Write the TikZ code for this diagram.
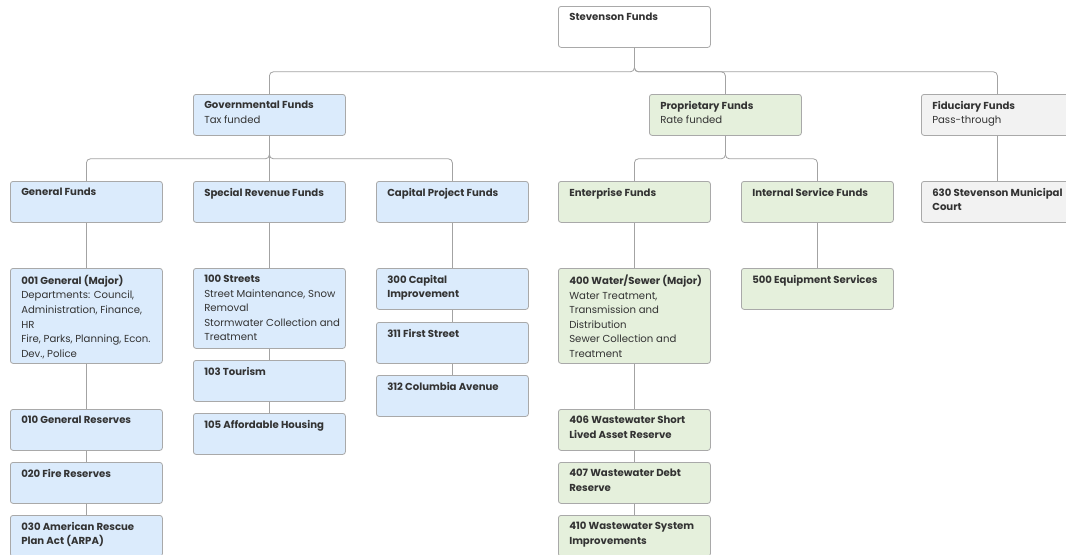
\documentclass[tikz,border=0pt]{standalone}
\usepackage{fontspec}
\setmainfont{Poppins}
\definecolor{govfill}{HTML}{DBEBFC}
\definecolor{propfill}{HTML}{E5F0DC}
\definecolor{fidfill}{HTML}{F2F2F2}
\definecolor{boxline}{HTML}{A9A9A9}
\definecolor{linkline}{HTML}{A3A3A3}
\definecolor{textcol}{HTML}{333333}
\tikzset{
  fund/.style={draw=boxline, line width=0.6pt, rounded corners=2pt, anchor=north west,
    inner sep=0pt, minimum width=114pt, minimum height=30.75pt},
  gov/.style={fund, fill=govfill},
  prop/.style={fund, fill=propfill},
  fid/.style={fund, fill=fidfill},
  top/.style={fund, fill=white},
  caption/.style={anchor=north west, inner sep=0pt, align=left, xshift=8.25pt, yshift=-5.2pt,
    text=textcol, font=\fontsize{7.6}{10.9}\selectfont},
  link/.style={draw=linkline, line width=0.6pt, rounded corners=3pt},
}
\newcommand{\ttl}[1]{\textbf{#1}}
\begin{document}
\begin{tikzpicture}[x=0.75pt, y=-0.75pt]
		\clip (0,0) rectangle (1066,554);
		\fill[white] (0,0) rectangle (1066,554);
		% top level
		\node[top, label={[caption]north west:\ttl{Stevenson Funds}}] (stevenson) at (558,6) {};
		\node[gov, label={[caption]north west:\ttl{Governmental Funds}\\Tax funded}] (governmental) at (193,94) {};
		\node[prop, label={[caption]north west:\ttl{Proprietary Funds}\\Rate funded}] (proprietary) at (649,94) {};
		\node[fid, label={[caption]north west:\ttl{Fiduciary Funds}\\Pass-through}] (fiduciary) at (921,94) {};
		% fund groups
		\node[gov, label={[caption]north west:\ttl{General Funds}}] (general) at (10,181) {};
		\node[gov, label={[caption]north west:\ttl{Special Revenue Funds}}] (special) at (193,181) {};
		\node[gov, label={[caption]north west:\ttl{Capital Project Funds}}] (capital) at (376,181) {};
		\node[prop, label={[caption]north west:\ttl{Enterprise Funds}}] (enterprise) at (558,181) {};
		\node[prop, label={[caption]north west:\ttl{Internal Service Funds}}] (internal) at (741,181) {};
		\node[fid, label={[caption]north west:\ttl{630 Stevenson Municipal}\\\ttl{Court}}] (court) at (921,181) {};
		% general funds
		\node[gov, minimum height=71.25pt, label={[caption]north west:\ttl{001 General (Major)}\\Departments: Council,\\Administration, Finance,\\HR\\Fire, Parks, Planning, Econ.\\Dev., Police}] (fund001) at (10,268) {};
		\node[gov, label={[caption]north west:\ttl{010 General Reserves}}] (fund010) at (10,409) {};
		\node[gov, label={[caption]north west:\ttl{020 Fire Reserves}}] (fund020) at (10,462) {};
		\node[gov, label={[caption]north west:\ttl{030 American Rescue}\\\ttl{Plan Act (ARPA)}}] (fund030) at (10,515) {};
		% special revenue funds
		\node[gov, minimum height=60pt, label={[caption]north west:\ttl{100 Streets}\\Street Maintenance, Snow\\Removal\\Stormwater Collection and\\Treatment}] (fund100) at (193,268) {};
		\node[gov, label={[caption]north west:\ttl{103 Tourism}}] (fund103) at (193,360) {};
		\node[gov, label={[caption]north west:\ttl{105 Affordable Housing}}] (fund105) at (193,413) {};
		% capital project funds
		\node[gov, label={[caption]north west:\ttl{300 Capital}\\\ttl{Improvement}}] (fund300) at (376,268) {};
		\node[gov, label={[caption]north west:\ttl{311 First Street}}] (fund311) at (376,322) {};
		\node[gov, label={[caption]north west:\ttl{312 Columbia Avenue}}] (fund312) at (376,375) {};
		% enterprise funds
		\node[prop, minimum height=71.25pt, label={[caption]north west:\ttl{400 Water/Sewer (Major)}\\Water Treatment,\\Transmission and\\Distribution\\Sewer Collection and\\Treatment}] (fund400) at (558,268) {};
		\node[prop, label={[caption]north west:\ttl{406 Wastewater Short}\\\ttl{Lived Asset Reserve}}] (fund406) at (558,409) {};
		\node[prop, label={[caption]north west:\ttl{407 Wastewater Debt}\\\ttl{Reserve}}] (fund407) at (558,462) {};
		\node[prop, label={[caption]north west:\ttl{410 Wastewater System}\\\ttl{Improvements}}] (fund410) at (558,515) {};
		% internal service funds
		\node[prop, label={[caption]north west:\ttl{500 Equipment Services}}] (fund500) at (741,268) {};
		% connectors
		\draw[link] (stevenson.south) -- ++(0,24) -| (governmental.north);
		\draw[link] (stevenson.south) -- ++(0,24) -| (proprietary.north);
		\draw[link] (stevenson.south) -- ++(0,24) -| (fiduciary.north);
		\draw[link] (governmental.south) -- ++(0,23) -| (general.north);
		\draw[link] (governmental.south) -- (special.north);
		\draw[link] (governmental.south) -- ++(0,23) -| (capital.north);
		\draw[link] (proprietary.south) -- ++(0,23) -| (enterprise.north);
		\draw[link] (proprietary.south) -- ++(0,23) -| (internal.north);
		\draw[link] (fiduciary.south) -- (court.north);
		\draw[link] (general.south) -- (fund001.north);
		\draw[link] (fund001.south) -- (fund010.north);
		\draw[link] (fund010.south) -- (fund020.north);
		\draw[link] (fund020.south) -- (fund030.north);
		\draw[link] (special.south) -- (fund100.north);
		\draw[link] (fund100.south) -- (fund103.north);
		\draw[link] (fund103.south) -- (fund105.north);
		\draw[link] (capital.south) -- (fund300.north);
		\draw[link] (fund300.south) -- (fund311.north);
		\draw[link] (fund311.south) -- (fund312.north);
		\draw[link] (enterprise.south) -- (fund400.north);
		\draw[link] (fund400.south) -- (fund406.north);
		\draw[link] (fund406.south) -- (fund407.north);
		\draw[link] (fund407.south) -- (fund410.north);
		\draw[link] (internal.south) -- (fund500.north);
	\end{tikzpicture}
\end{document}
